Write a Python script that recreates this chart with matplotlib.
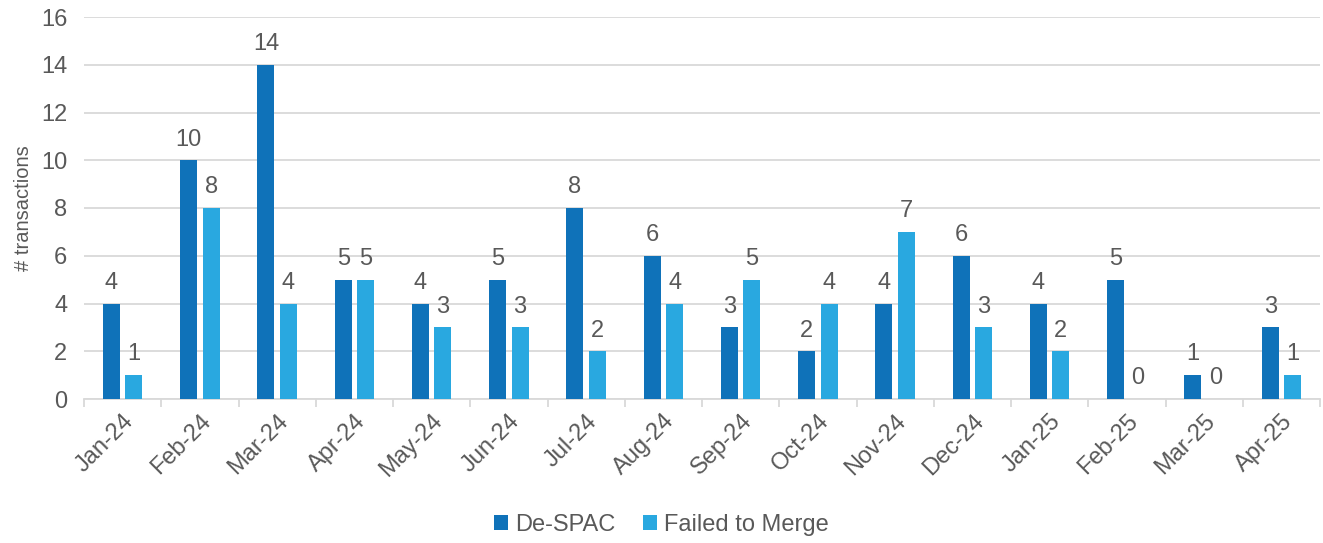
import matplotlib
matplotlib.use("Agg")
import matplotlib.pyplot as plt
import numpy as np

months = ["Jan-24", "Feb-24", "Mar-24", "Apr-24", "May-24", "Jun-24", "Jul-24", "Aug-24",
          "Sep-24", "Oct-24", "Nov-24", "Dec-24", "Jan-25", "Feb-25", "Mar-25", "Apr-25"]
despac = [4, 10, 14, 5, 4, 5, 8, 6, 3, 2, 4, 6, 4, 5, 1, 3]
failed = [1, 8, 4, 5, 3, 3, 2, 4, 5, 4, 7, 3, 2, 0, 0, 1]

plt.rcParams['font.family'] = ['Liberation Sans', 'DejaVu Sans']
txt = '#595959'
c1 = '#0F72B9'
c2 = '#29A8E0'
fs = 17

fig = plt.figure(figsize=(13.23, 5.43), dpi=100)
ax = fig.add_axes([84/1323, 1-399/543, (1320-84)/1323, (399-17)/543])

x = np.arange(len(months))
w = 0.22
gap = 0.035
b1 = ax.bar(x - w/2 - gap, despac, w, color=c1, label='De-SPAC', zorder=3)
b2 = ax.bar(x + w/2 + gap, failed, w, color=c2, label='Failed to Merge', zorder=3)
for bars, vals in ((b1, despac), (b2, failed)):
    for r, v in zip(bars, vals):
        ax.annotate(str(v), (r.get_x() + r.get_width()/2, v), xytext=(0, 7),
                    textcoords='offset points', ha='center', va='bottom',
                    fontsize=fs, color=txt)

ax.set_xlim(-0.5, len(months) - 0.5)
ax.set_ylim(0, 16)
ax.set_yticks(range(0, 17, 2))
ax.yaxis.grid(True, color='#D9D9D9', linewidth=1.3, zorder=0)
ax.set_axisbelow(True)
for s in ['top', 'right', 'left']:
    ax.spines[s].set_visible(False)
ax.spines['bottom'].set_color('#D9D9D9')
ax.spines['bottom'].set_linewidth(1.3)
ax.tick_params(axis='y', length=0, labelsize=fs, labelcolor=txt, pad=12)
ax.set_xticks(x)
ax.set_xticklabels(months, rotation=45, ha='right', rotation_mode='anchor',
                   fontsize=fs, color=txt)
ax.tick_params(axis='x', length=0, pad=8)
ax.set_xticks(np.arange(-0.5, len(months), 1), minor=True)
ax.tick_params(axis='x', which='minor', length=6, color='#D9D9D9', width=1.3)
ax.set_ylabel('# transactions', fontsize=14.5, color=txt, labelpad=6)

fig.legend(handles=[b1, b2], loc='center', bbox_to_anchor=(0.5, 1-525/543), ncol=2,
           frameon=False, fontsize=fs, labelcolor=txt, handlelength=0.6, handleheight=0.6,
           handletextpad=0.3, columnspacing=1.15)

fig.savefig('out.png', dpi=100)
